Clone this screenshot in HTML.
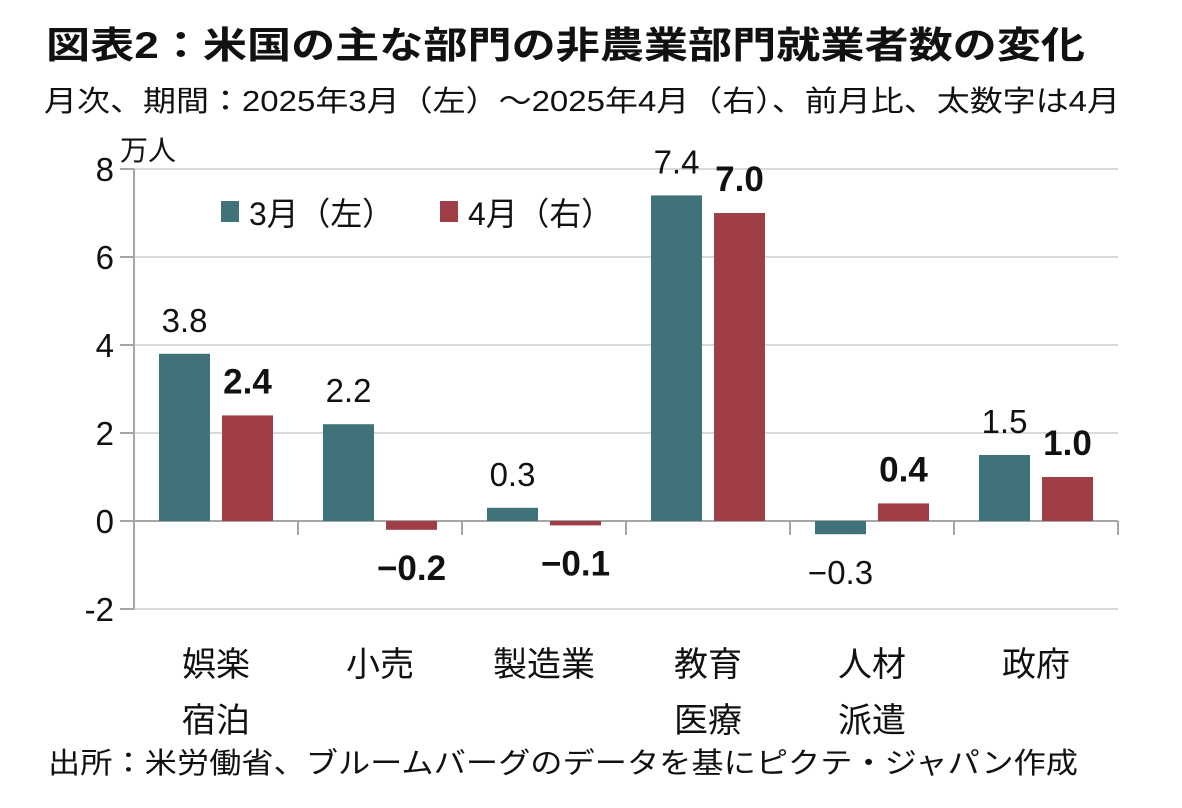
<!DOCTYPE html>
<html><head><meta charset="utf-8">
<style>
body{margin:0;background:#fff;width:1182px;height:808px;overflow:hidden;font-family:"Liberation Sans","Noto Sans CJK JP",sans-serif;}
svg{display:block}
text{font-family:"Liberation Sans","Noto Sans CJK JP",sans-serif;fill:#111}
</style></head>
<body>
<svg id="chart" width="1182" height="808">
<text x="46" y="58" font-size="37" font-weight="bold" textLength="1039" lengthAdjust="spacingAndGlyphs">図表2：米国の主な部門の非農業部門就業者数の変化</text>
<text x="44" y="111" font-size="29" textLength="1076" lengthAdjust="spacingAndGlyphs">月次、期間：2025年3月（左）～2025年4月（右）、前月比、太数字は4月</text>
<text x="120" y="160" font-size="28">万人</text>
<g id="plot"></g>
<text x="48" y="773" font-size="29" textLength="1030" lengthAdjust="spacingAndGlyphs">出所：米労働省、ブルームバーグのデータを基にピクテ・ジャパン作成</text>
</svg>
<script>
const categories=[["娯楽","宿泊"],["小売"],["製造業"],["教育","医療"],["人材","派遣"],["政府"]];
const march=[3.8,2.2,0.3,7.4,-0.3,1.5];
const april=[2.4,-0.2,-0.1,7.0,0.4,1.0];
const yTicks=[8,6,4,2,0,-2];
const ns="http://www.w3.org/2000/svg";
const g=document.getElementById('plot');
const x0=134,gw=164,yZero=521,ppu=44;
const y=v=>yZero-v*ppu;
function mk(t,a,parent){const e=document.createElementNS(ns,t);for(const k in a)e.setAttribute(k,a[k]);(parent||g).appendChild(e);return e;}
const xr=x0+gw*categories.length;
yTicks.forEach(t=>{
  const l=mk('line',{x1:x0,x2:xr,y1:y(t),y2:y(t),stroke:t===0?'#a6a6a6':'#d9d9d9','stroke-width':2});
  
  
  mk('line',{x1:x0-14,x2:x0,y1:y(t),y2:y(t),stroke:'#a6a6a6','stroke-width':2});
  const tx=mk('text',{x:x0-20,y:y(t)+12,'font-size':33,'text-anchor':'end'});
  tx.textContent=(t<0?'-':'')+Math.abs(t);
  
  
});
const ax=mk('line',{x1:x0,x2:x0,y1:y(8),y2:y(-2),stroke:'#a6a6a6','stroke-width':2});


for(let i=0;i<=categories.length;i++){mk('line',{x1:x0+gw*i,x2:x0+gw*i,y1:yZero,y2:yZero+14,stroke:'#a6a6a6','stroke-width':2});}
function fmt(v){return (v<0?'−':'')+Math.abs(v).toFixed(1);}
categories.forEach((c,i)=>{
  const cx=x0+gw*i+gw/2;
  [[march[i],-57,'#40727a',false],[april[i],6,'#a03e47',true]].forEach(([v,off,col,bold])=>{
    const bx=cx+off,top=Math.min(y(v),yZero),h=Math.abs(y(v)-yZero);
    const r=mk('rect',{x:bx,y:top,width:51,height:h,fill:col});
    
    
    const ly=v>=0?y(v)-22:y(v)+50;
    const t=mk('text',{x:bx+25.5,y:ly,'font-size':bold?35:33,'text-anchor':'middle','font-weight':bold?'bold':'normal'});
    t.textContent=fmt(v);
    
    
  });
  c.forEach((s,j)=>{
    const t=mk('text',{x:cx,y:676+j*56,'font-size':34,'text-anchor':'middle'});
    t.textContent=s;
    
    
  });
});
[['3月（左）','#40727a',221],['4月（右）','#a03e47',440]].forEach(([s,col,lx])=>{
  const r=mk('rect',{x:lx,y:201,width:18,height:21,fill:col});
  
  
  const t=mk('text',{x:lx+28,y:225,'font-size':32,textLength:145,lengthAdjust:'spacingAndGlyphs'});
  t.textContent=s;
  
  
});
</script>
</body></html>
